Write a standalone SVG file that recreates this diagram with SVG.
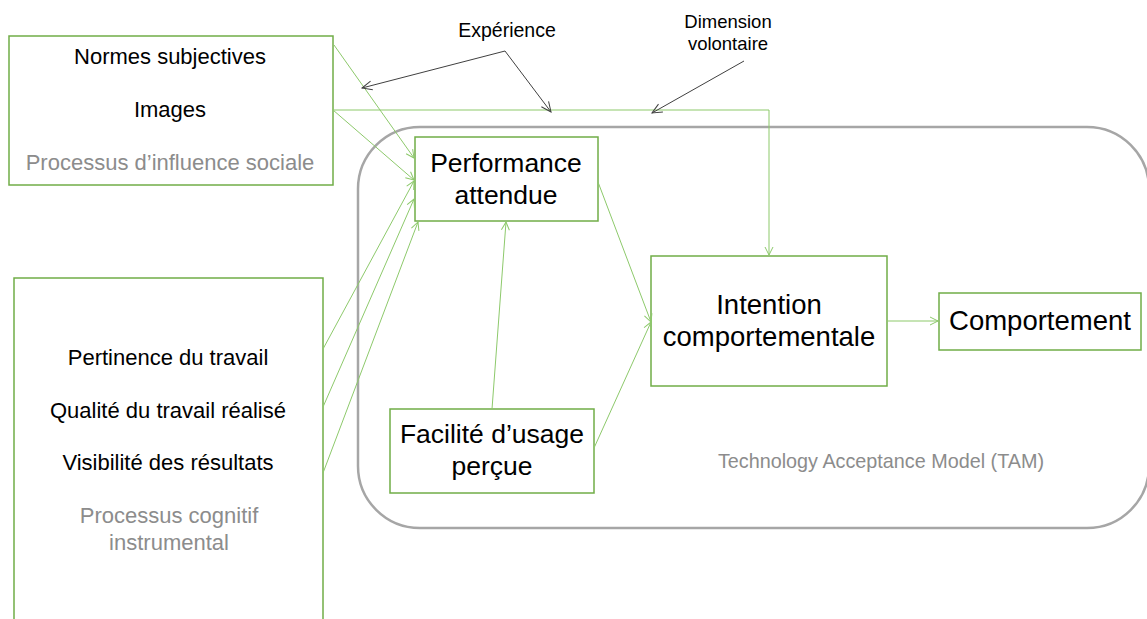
<svg xmlns="http://www.w3.org/2000/svg" width="1147" height="619" viewBox="0 0 1147 619">
<style>
.box{fill:#fff;stroke:#70AD47;stroke-width:1.5}
.t{font-family:"Liberation Sans",Arial,sans-serif;fill:#000;text-anchor:middle}
.g{fill:#8C8C8C}
.s{font-size:19.5px}
.d{font-size:18.5px}
.m{font-size:22px}
.b{font-size:26.5px}
.c{font-size:27.5px}
.gl{fill:none;stroke:#8DC96B;stroke-width:1;marker-end:url(#ag)}
.bl{fill:none;stroke:#404040;stroke-width:1;marker-end:url(#ab)}
</style>
<defs>
<marker id="ag" markerWidth="10" markerHeight="10" refX="9" refY="5" orient="auto" markerUnits="userSpaceOnUse"><path d="M1,1 L9,5 L1,9" fill="none" stroke="#8DC96B" stroke-width="1"/></marker>
<marker id="ab" markerWidth="12" markerHeight="12" refX="11" refY="6" orient="auto" markerUnits="userSpaceOnUse"><path d="M1,1.5 L11,6 L1,10.5" fill="none" stroke="#404040" stroke-width="1"/></marker>
</defs>
<rect width="1147" height="619" fill="#fff"/>
<g id="tam">
<rect x="358" y="127" width="791" height="401" rx="62" ry="62" fill="none" stroke="#A6A6A6" stroke-width="2.5"/>
<text class="t g" style="font-size:19.8px" x="881" y="468">Technology Acceptance Model (TAM)</text>
</g>
<g id="social">
<rect class="box" x="9" y="36" width="324" height="149"/>
<text class="t m" x="170" y="64">Normes subjectives</text>
<text class="t m" x="170" y="117">Images</text>
<text class="t m g" x="170" y="170">Processus d’influence sociale</text>
</g>
<g id="cognitif">
<rect class="box" x="14" y="278" width="309" height="400"/>
<text class="t m" x="168" y="365">Pertinence du travail</text>
<text class="t m" x="168" y="418">Qualité du travail réalisé</text>
<text class="t m" x="168" y="470">Visibilité des résultats</text>
<text class="t m g" x="169" y="523">Processus cognitif</text>
<text class="t m g" x="169" y="550">instrumental</text>
</g>
<g id="performance">
<rect class="box" x="415" y="137" width="183" height="84"/>
<text class="t b" x="506" y="172">Performance</text>
<text class="t b" x="506" y="204">attendue</text>
</g>
<g id="facilite">
<rect class="box" x="390" y="409" width="204" height="84"/>
<text class="t b" x="492" y="443">Facilité d’usage</text>
<text class="t b" x="492" y="475">perçue</text>
</g>
<g id="intention">
<rect class="box" x="651" y="256" width="236" height="130"/>
<text class="t c" x="769" y="314">Intention</text>
<text class="t c" x="769" y="346">comportementale</text>
</g>
<g id="comportement">
<rect class="box" x="939" y="293" width="202" height="57"/>
<text class="t c" x="1040" y="330">Comportement</text>
</g>
<g id="labels">
<text class="t s" x="507" y="37">Expérience</text>
<text class="t d" x="728" y="28">Dimension</text>
<text class="t d" x="728" y="50">volontaire</text>
</g>
<g id="connectors">
<line class="gl" x1="334" y1="45" x2="414" y2="158"/>
<line class="gl" x1="333" y1="110" x2="414" y2="180"/>
<polyline class="gl" points="333,110 769,110 769,255"/>
<line class="gl" x1="323" y1="349" x2="414" y2="181"/>
<line class="gl" x1="323" y1="407" x2="414" y2="199"/>
<line class="gl" x1="323" y1="473" x2="418" y2="222"/>
<line class="gl" x1="492" y1="409" x2="506" y2="222"/>
<line class="gl" x1="598" y1="182" x2="651" y2="322"/>
<line class="gl" x1="594" y1="448" x2="651" y2="322"/>
<line class="gl" x1="887" y1="321" x2="938" y2="321"/>
<line class="bl" x1="505" y1="51" x2="362" y2="88"/>
<line class="bl" x1="505" y1="51" x2="551" y2="112"/>
<line class="bl" x1="744" y1="61" x2="652" y2="113"/>
</g>
</svg>
